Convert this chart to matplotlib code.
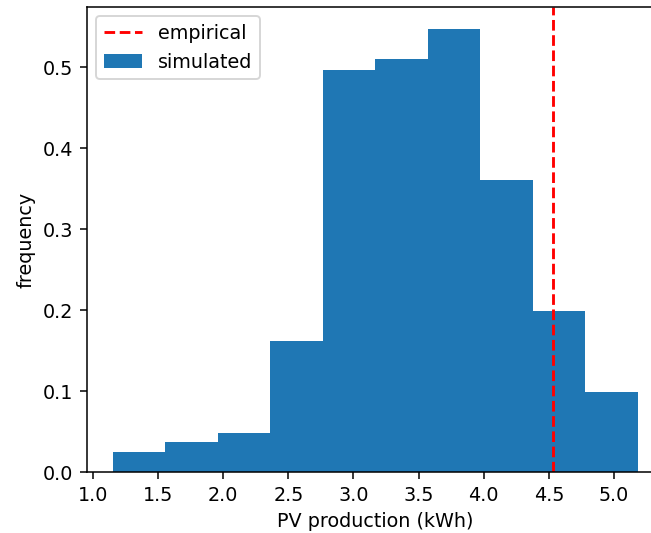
import numpy as np
import matplotlib
matplotlib.use("Agg")
import matplotlib.pyplot as plt

# bin edges and normalised heights
bin_edges = [1.153, 1.556, 1.959, 2.362, 2.766, 3.169, 3.572, 3.975, 4.378, 4.781, 5.184]
heights = [0.0247, 0.0370, 0.0485, 0.162, 0.497, 0.5106, 0.5476, 0.3605, 0.1993, 0.0997]
empirical = 4.535

dpi = 138
fig = plt.figure(figsize=(651 / dpi, 533 / dpi), dpi=dpi)
# axes runs past the right edge (reference image is cropped there)
ax = fig.add_axes([0.1332, 0.1139, 0.887, 0.8735])

line = ax.axvline(empirical, color="red", linestyle="--", label="empirical")
_, _, patches = ax.hist(bin_edges[:-1], bins=bin_edges, weights=heights, label="simulated")

ax.set_xlabel("PV production (kWh)")
ax.set_ylabel("frequency")
ax.legend(handles=[line, patches[0]], labels=["empirical", "simulated"], loc="upper left")

fig.savefig("out.png", dpi=dpi)
